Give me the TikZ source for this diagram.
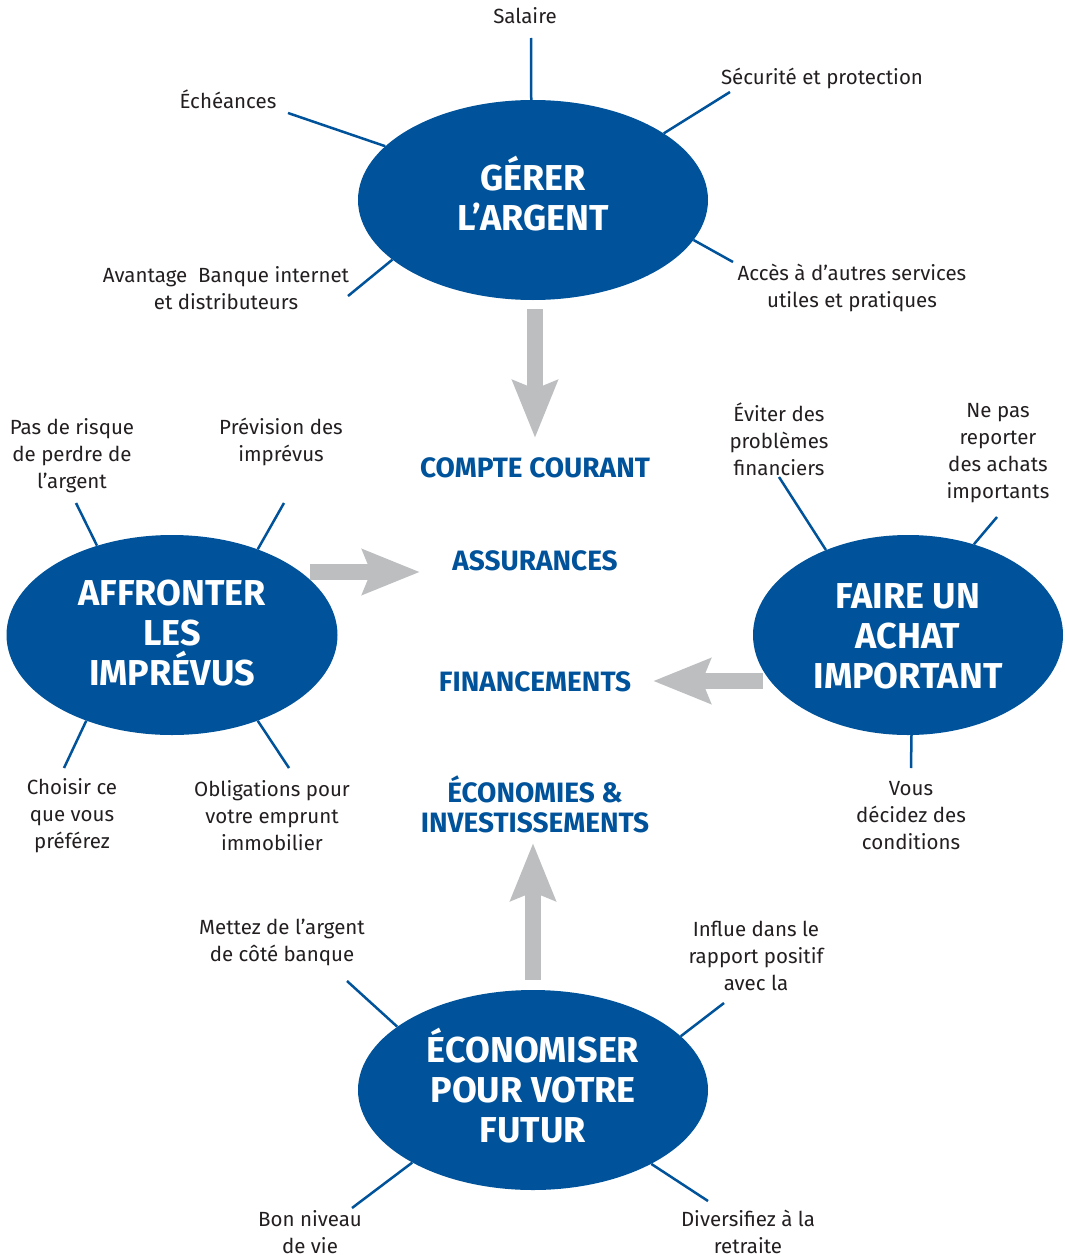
\documentclass[tikz,border=0pt]{standalone}
\usepackage{fontspec}
\setmainfont{Fira Sans}
\usetikzlibrary{shapes.geometric,arrows.meta}
\definecolor{cblue}{HTML}{00539A}
\definecolor{cgray}{HTML}{BCBEC0}
\definecolor{ctext}{HTML}{231F20}
\begin{document}
\begin{tikzpicture}[x=1pt,y=-1pt,
 bubble/.style={ellipse,fill=cblue,inner sep=0pt},
 btitle/.style={text=white,font=\fontsize{36}{40}\selectfont\bfseries,align=center,inner sep=0pt},
 spoke/.style={draw=cblue,line width=2.5pt},
 lbl/.style={font=\fontsize{20.5}{27}\selectfont,text=ctext,align=center,inner sep=0pt},
 topic/.style={font=\fontsize{28}{30}\selectfont\bfseries,text=cblue,align=center,inner sep=0pt},
 bigarrow/.style={draw=cgray,line width=16pt,-{Stealth[length=57pt,width=44pt,inset=8pt]}}]
\useasboundingbox (0,0) rectangle (1065,1255);

% bubbles
\node[bubble,minimum width=350pt,minimum height=200pt] (gerer) at (533,200) {};
\node[bubble,minimum width=331pt,minimum height=200pt] (affr) at (172,635) {};
\node[bubble,minimum width=310pt,minimum height=200pt] (achat) at (908,635) {};
\node[bubble,minimum width=350pt,minimum height=200pt] (econ) at (533,1090) {};
\node[btitle] (gererT) at (533,194) {GÉRER\\L’ARGENT};
\node[btitle] (affrT) at (172,633) {AFFRONTER\\LES\\IMPRÉVUS};
\node[btitle] (achatT) at (908,636) {FAIRE UN\\ACHAT\\IMPORTANT};
\node[btitle] (econT) at (533,1086) {ÉCONOMISER\\POUR VOTRE\\FUTUR};

% central topics
\node[topic] (compte) at (535,468) {COMPTE COURANT};
\node[topic] (assur) at (535,561) {ASSURANCES};
\node[topic] (fin) at (535,682) {FINANCEMENTS};
\node[topic] (eco) at (535,804) {ÉCONOMIES \&\\INVESTISSEMENTS};

% grey arrows
\coordinate (a1s) at (535,309); \coordinate (a1e) at (535,438);
\coordinate (a2s) at (310,572); \coordinate (a2e) at (420,572);
\coordinate (a3s) at (763,681); \coordinate (a3e) at (653,681);
\coordinate (a4s) at (533,980); \coordinate (a4e) at (533,843);
\draw[bigarrow] (a1s) -- (a1e);
\draw[bigarrow] (a2s) -- (a2e);
\draw[bigarrow] (a3s) -- (a3e);
\draw[bigarrow] (a4s) -- (a4e);

% top spokes
\coordinate (s1) at (531,38);
\coordinate (s2) at (288,113);
\coordinate (s3) at (730,92);
\coordinate (s4) at (348,296);
\coordinate (s5) at (733,262);
\draw[spoke] (s1) -- (gerer.91);
\draw[spoke] (s2) -- (gerer.160);
\draw[spoke] (s3) -- (gerer.27);
\draw[spoke] (s4) -- (gerer.203);
\draw[spoke] (s5) -- (gerer.346);
\node[lbl] (l1) at (525,16) {Salaire};
\node[lbl] (l2) at (228,99) {Échéances};
\node[lbl] (l3) at (822,78) {Sécurité et protection};
\node[lbl] (l4) at (226,288) {Avantage\ \ Banque internet\\et distributeurs};
\node[lbl] (l5) at (852,288) {Accès à d’autres services\\utiles et pratiques};

% left spokes
\coordinate (s6) at (76,503);
\coordinate (s7) at (284,503);
\coordinate (s8) at (64,768);
\coordinate (s9) at (289,768);
\draw[spoke] (s6) -- (affr.130);
\draw[spoke] (s7) -- (affr.45);
\draw[spoke] (s8) -- (affr.225);
\draw[spoke] (s9) -- (affr.315);
\node[lbl] (l6) at (72,456) {Pas de risque\\de perdre de\\l’argent};
\node[lbl] (l7) at (281,442) {Prévision des\\imprévus};
\node[lbl] (l8) at (72,816) {Choisir ce\\que vous\\préférez};
\node[lbl] (l9) at (272,816) {Obligations pour\\votre emprunt\\immobilier};

% right spokes
\coordinate (s10) at (779,477);
\coordinate (s11) at (997,517);
\coordinate (s12) at (911,768);
\draw[spoke] (s10) -- (achat.134);
\draw[spoke] (s11) -- (achat.54);
\draw[spoke] (s12) -- (achat.272);
\node[lbl] (l10) at (779,439) {Éviter des\\problèmes\\financiers};
\node[lbl] (l11) at (998,453) {Ne pas\\reporter\\des achats\\importants};
\node[lbl] (l12) at (911,816) {Vous\\décidez des\\conditions};

% bottom spokes
\coordinate (s13) at (347,981);
\coordinate (s14) at (724,1003);
\coordinate (s15) at (352,1208);
\coordinate (s16) at (708,1201);
\draw[spoke] (s13) -- (econ.155);
\draw[spoke] (s14) -- (econ.20);
\draw[spoke] (s15) -- (econ.211);
\draw[spoke] (s16) -- (econ.328);
\node[lbl] (l13) at (282,942) {Mettez de l’argent\\de côté banque};
\node[lbl] (l14) at (756,956) {Influe dans le\\rapport positif\\avec la};
\node[lbl] (l15) at (310,1232) {Bon niveau\\de vie};
\node[lbl] (l16) at (748,1232) {Diversifiez à la\\retraite};
\end{tikzpicture}
\end{document}
